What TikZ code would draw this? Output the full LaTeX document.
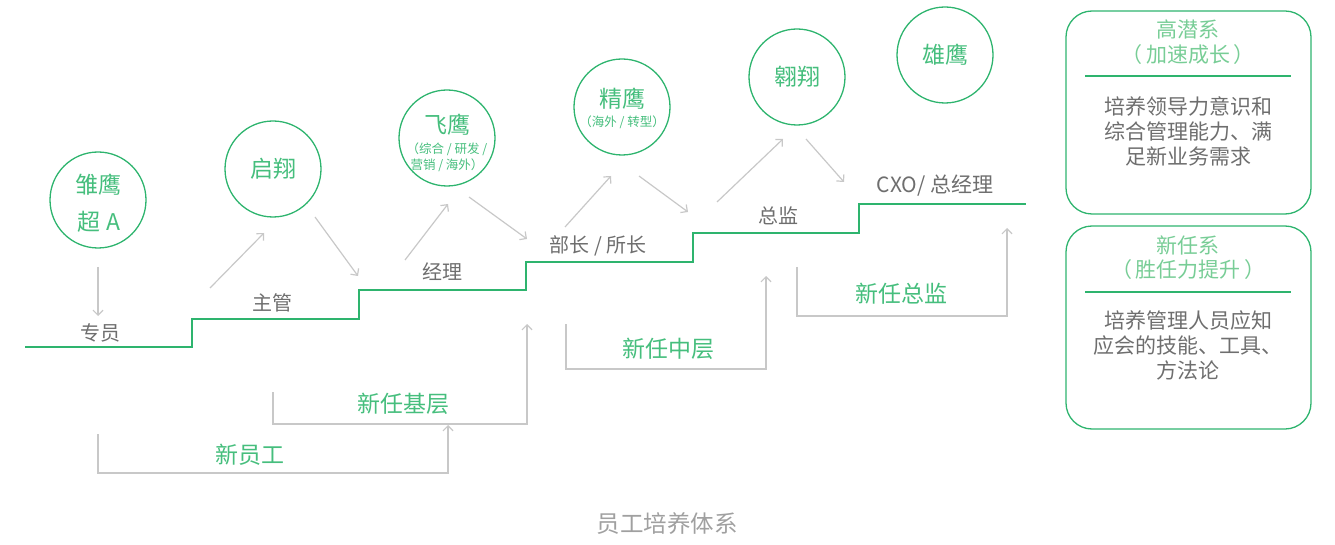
\documentclass[tikz,border=0pt]{standalone}
\usepackage{fontspec}
\setmainfont{Noto Sans CJK SC}
\usetikzlibrary{arrows.meta}
\definecolor{gline}{RGB}{46,180,110}
\definecolor{gtext}{RGB}{70,190,125}
\definecolor{gtitle}{RGB}{120,205,150}
\definecolor{dtext}{RGB}{110,110,110}
\definecolor{conn}{RGB}{200,200,200}
\definecolor{captc}{RGB}{160,160,160}
\tikzset{
  stair/.style={draw=gline,line width=1.4pt},
  ring/.style={circle,draw=gline,line width=1.3pt,minimum size=96pt,inner sep=0pt,text=gtext,align=center},
  ringtxt/.style={text=gtext,font=\fontsize{23}{26}\selectfont,inner sep=0pt},
  ringsmall/.style={text=gtext,font=\fontsize{12.5}{16}\selectfont,inner sep=0pt,align=center},
  lvl/.style={text=dtext,font=\fontsize{20}{22}\selectfont,inner sep=0pt},
  flow/.style={draw=conn,line width=1.2pt,-{Straight Barb[length=5pt,width=10pt]}},
  brk/.style={draw=conn,line width=1.2pt,-{Straight Barb[length=5pt,width=10pt]}},
  brklbl/.style={text=gtext,font=\fontsize{23}{25}\selectfont,inner sep=0pt},
  card/.style={draw=gline,line width=1.3pt,rounded corners=26pt},
  cardtitle/.style={text=gtitle,font=\fontsize{21}{24}\selectfont,inner sep=0pt},
  cardbody/.style={text=dtext,font=\fontsize{21}{25}\selectfont,align=center,inner sep=0pt},
}
\begin{document}
\begin{tikzpicture}[x=1pt,y=-1pt]
\useasboundingbox (0,0) rectangle (1335,545);
% staircase
\draw[stair] (25,347) -- (192,347) -- (192,319) -- (359,319) -- (359,290) -- (526,290) -- (526,262) -- (693,262) -- (693,233) -- (859,233) -- (859,204) -- (1026,204);
% level labels
\node[lvl] (l1) at (100,333) {专员};
\node[lvl] (l2) at (272,303) {主管};
\node[lvl] (l3) at (442,272) {经理};
\node[lvl] (l4) at (598,246) {部长 / 所长};
\node[lvl] (l5) at (778,216) {总监};
\node[lvl,font=\fontsize{21}{23}\selectfont] (l6) at (935,186) {CXO/ 总经理};
% circles
\node[ring] (c1) at (98,200) {};
\node[ringtxt] (c1a) at (98,185) {雏鹰};
\node[ringtxt] (c1b) at (99,222) {超 A};
\node[ring] (c2) at (273,169) {};
\node[ringtxt] (c2t) at (273,169) {启翔};
\node[ring] (c3) at (447,138) {};
\node[ringtxt] (c3t) at (447,125) {飞鹰};
\node[ringsmall] (c3s) at (447,157) {（综合 / 研发 /\\营销 / 海外）};
\node[ring] (c4) at (622,107) {};
\node[ringtxt] (c4t) at (622,99) {精鹰};
\node[ringsmall] (c4s) at (622,122) {（海外 / 转型）};
\node[ring] (c5) at (797,77) {};
\node[ringtxt] (c5t) at (797,77) {翱翔};
\node[ring] (c6) at (945,55) {};
\node[ringtxt] (c6t) at (945,55) {雄鹰};
% flow arrows
\coordinate (a1s) at (98,267); \coordinate (a1e) at (98,316);
\coordinate (a2s) at (210,288); \coordinate (a2e) at (264,233);
\coordinate (a3s) at (315,217); \coordinate (a3e) at (358,276);
\coordinate (a4s) at (405,260); \coordinate (a4e) at (448,204);
\coordinate (a5s) at (469,197); \coordinate (a5e) at (527,239);
\coordinate (a6s) at (565,227); \coordinate (a6e) at (611,176);
\coordinate (a7s) at (639,176); \coordinate (a7e) at (688,212);
\coordinate (a8s) at (717,202); \coordinate (a8e) at (783,139);
\coordinate (a9s) at (806,139); \coordinate (a9e) at (844,182);
\foreach \i in {1,...,9} {\draw[flow] (a\i s) -- (a\i e);}
% brackets
\coordinate (b1s) at (98,434); \coordinate (b1e) at (448,425);
\draw[brk] (b1s) |- (448,473) -- (b1e);
\node[brklbl] (t1) at (250,455) {新员工};
\coordinate (b2s) at (273,392); \coordinate (b2e) at (527,324);
\draw[brk] (b2s) |- (527,424) -- (b2e);
\node[brklbl] (t2) at (403,404) {新任基层};
\coordinate (b3s) at (566,324); \coordinate (b3e) at (766,276);
\draw[brk] (b3s) |- (766,369) -- (b3e);
\node[brklbl] (t3) at (668,349) {新任中层};
\coordinate (b4s) at (797,267); \coordinate (b4e) at (1007,228);
\draw[brk] (b4s) |- (1007,316) -- (b4e);
\node[brklbl] (t4) at (901,294) {新任总监};
% cards
\draw[card] (1066,11) rectangle (1311,214);
\node[cardtitle] (k1a) at (1188,29) {高潜系};
\node[cardtitle] (k1b) at (1188,55) {（\,加速成长\,）};
\draw[draw=gline,line width=1.3pt] (1085,76) -- (1291,76);
\node[cardbody] (k1c) at (1188,131) {培养领导力意识和\\综合管理能力、满\\足新业务需求};
\draw[card] (1066,226) rectangle (1311,429);
\node[cardtitle] (k2a) at (1188,245) {新任系};
\node[cardtitle] (k2b) at (1188,270) {（\,胜任力提升\,）};
\draw[draw=gline,line width=1.3pt] (1085,292) -- (1291,292);
\node[cardbody] (k2c) at (1188,345) {培养管理人员应知\\应会的技能、工具、\\方法论};
% caption
\node[text=captc,font=\fontsize{23.5}{26}\selectfont,inner sep=0pt] (cap) at (667,524) {员工培养体系};
\end{tikzpicture}
\end{document}
